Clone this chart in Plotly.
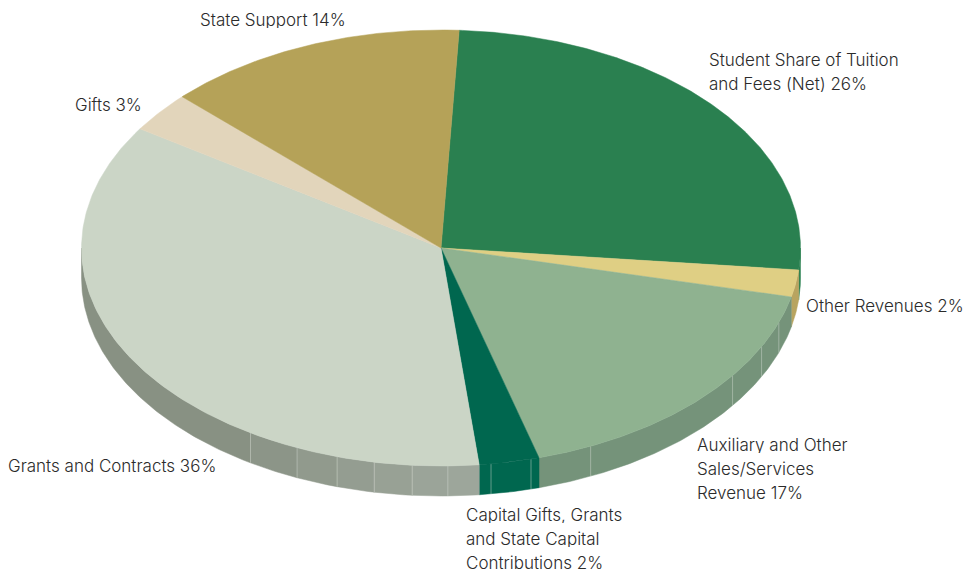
import numpy as np
import plotly.graph_objects as go

CATEGORIES = ["Student Share of Tuition and Fees (Net)", "Other Revenues", "Auxiliary and Other Sales/Services Revenue",
              "Capital Gifts, Grants and State Capital Contributions", "Grants and Contracts", "Gifts", "State Support"]
VALUES = [25.8, 2.0, 17.0, 2.7, 35.9, 3.0, 13.6]
TOP_COLORS = ["#2a8050", "#dfcf84", "#8fb290", "#00674f", "#cbd5c6", "#e2d5bb", "#b5a258"]
WALL_COLORS = ["#2a8050", "#b8a460", "#75937a", "#00674f", None, None, None]
# facets of the rim inside each slice, clockwise angles in degrees from the top
SEAMS = [110, 116.9, 125.8, 155.4, 165.5, 172, 178.9, 184.6, 190.7, 196.8, 203.6, 212]
GRANTS_BAND_COLORS = ["#9da69b", "#9ba499", "#98a195", "#949d91", "#919a8d", "#8c9588", "#889183"]
LABELS = [
    (["Student Share of Tuition", "and Fees (Net) 26%"], 709, 60),
    (["Other Revenues 2%"], 806, 306),
    (["Auxiliary and Other", "Sales/Services", "Revenue 17%"], 697, 445),
    (["Capital Gifts, Grants", "and State Capital", "Contributions 2%"], 466, 515),
    (["Grants and Contracts 36%"], 8, 466),
    (["Gifts 3%"], 75, 105),
    (["State Support 14%"], 200, 20),
]
LINE_STEP = 24
START_DEG = 2.9
DEPTH = 30 / 218
W, H = 968, 572
CX, CY, RX, RY = 441, 248, 359.5, 218

def arc(a, b, drop=0.0, n=None):
    n = n or max(2, int(abs(b - a) * 2) + 1)
    t = np.radians(np.linspace(a, b, n))
    return np.sin(t), np.cos(t) - drop

def wall(a, b, color):
    x1, y1 = arc(a, b)
    x2, y2 = arc(b, a, DEPTH)
    return go.Scatter(x=np.r_[x1, x2, x1[0]], y=np.r_[y1, y2, y1[0]], fill="toself", fillcolor=color, mode="lines",
                      line=dict(color=color, width=0.5), hoverinfo="skip", showlegend=False)

edges = START_DEG + np.r_[0, np.cumsum(VALUES)] * 360 / sum(VALUES)
fig = go.Figure()

# rim
for i, color in enumerate(WALL_COLORS):
    a, b = max(edges[i], 90), min(edges[i + 1], 270)
    if a >= b:
        continue
    if color:
        fig.add_trace(wall(a, b, color))
    else:
        stops = [a] + [s for s in SEAMS if a < s < b] + [b]
        for j in range(len(stops) - 1):
            fig.add_trace(wall(stops[j], stops[j + 1], GRANTS_BAND_COLORS[min(j, len(GRANTS_BAND_COLORS) - 1)]))

for s in SEAMS:
    x0, y0 = np.sin(np.radians(s)), np.cos(np.radians(s))
    fig.add_trace(go.Scatter(x=[x0, x0], y=[y0, y0 - DEPTH], mode="lines", hoverinfo="skip", showlegend=False,
                             line=dict(color="rgba(215,222,212,0.45)", width=1)))

# top faces
for i, name in enumerate(CATEGORIES):
    x, y = arc(edges[i], edges[i + 1])
    fig.add_trace(go.Scatter(x=np.r_[0, x, 0], y=np.r_[0, y, 0], fill="toself", fillcolor=TOP_COLORS[i], mode="lines",
                             line=dict(color=TOP_COLORS[i], width=0.5), name=name, hoverinfo="name", showlegend=False))

for lines, px, py in LABELS:
    for k, line in enumerate(lines):
        fig.add_annotation(text=line, x=px / W, y=1 - (py + k * LINE_STEP) / H, xref="paper", yref="paper",
                           xanchor="left", yanchor="middle", align="left", showarrow=False, borderpad=0, borderwidth=0,
                           height=16, font=dict(family="Inter", size=17, weight=300, color="#2b2b2b"))

fig.update_layout(
    width=W, height=H, margin=dict(l=0, r=0, t=0, b=0), paper_bgcolor="white", plot_bgcolor="white",
    xaxis=dict(range=[-CX / RX, (W - CX) / RX], visible=False, fixedrange=True),
    yaxis=dict(range=[(CY - H) / RY, CY / RY], visible=False, fixedrange=True),
)
fig.write_html("out.html", config={"displayModeBar": False},
               post_script="document.body.style.margin='0';document.documentElement.style.overflow='hidden';")
